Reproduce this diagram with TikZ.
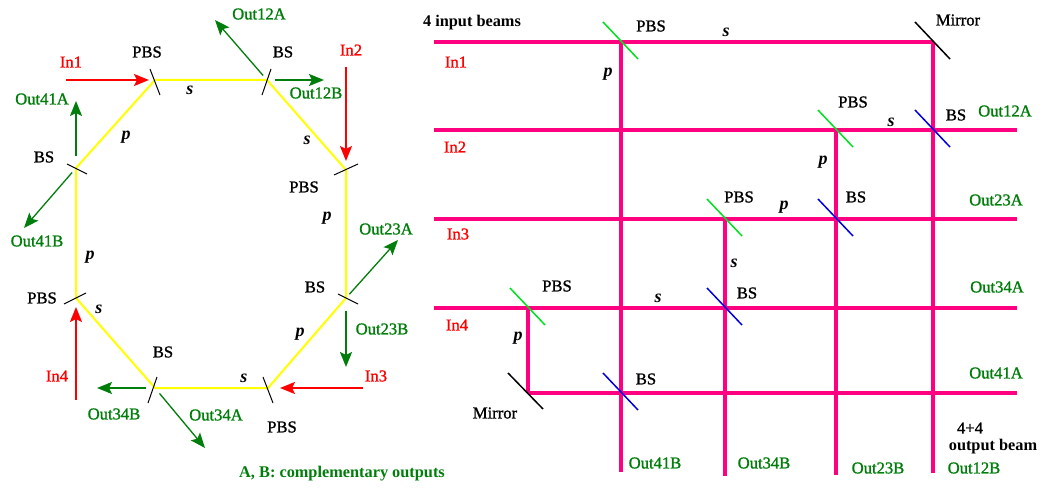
\documentclass[tikz,border=0pt]{standalone}
\usepackage{fontspec}
\setmainfont{Liberation Serif}
\newfontfamily\lblfont[FakeBold=1.2]{Liberation Serif}
\usetikzlibrary{arrows.meta}
\definecolor{beamyellow}{RGB}{255,255,0}
\definecolor{beampink}{RGB}{255,0,128}
\definecolor{outgreen}{RGB}{0,125,10}
\definecolor{pbsgreen}{RGB}{0,225,30}
\definecolor{bsblue}{RGB}{0,0,225}
\tikzset{
    %Define standard arrow tip
    >={Stealth[length=15pt,width=12pt,inset=3pt]},
    %Define styles for the loop on the left
    loopbeam/.style={draw=beamyellow, line width=2pt},
    tick/.style={draw=black, line width=1pt},
    inarrow/.style={->, draw=red, fill=red, line width=2pt},
    outarrow/.style={->, draw=outgreen, line width=2pt},
    outslant/.style={->, draw=outgreen, line width=1.3pt},
    % Define styles for the grid on the right
    gridbeam/.style={draw=beampink, line width=3.4pt},
    pbsline/.style={draw=pbsgreen, line width=1.5pt},
    bsline/.style={draw=bsblue, line width=1.5pt},
    mirrorline/.style={draw=black, line width=1.5pt},
    % Define styles for labels
    lbl/.style={inner sep=0pt, font=\lblfont\fontsize{16.6}{17}\selectfont},
    inlbl/.style={lbl, text=red},
    outlbl/.style={lbl, text=outgreen},
    pol/.style={inner sep=0pt, font=\fontsize{18}{18}\selectfont\bfseries\itshape},
    boldlbl/.style={inner sep=0pt, font=\fontsize{16.3}{17}\selectfont\bfseries}
}

\begin{document}
\begin{tikzpicture}[x=1pt, y=-1pt]
    \useasboundingbox (0,0) rectangle (1042,489);
    % junctions of the loop
    \coordinate (pbsA) at (155,80);
    \coordinate (bsA) at (267,80);
    \coordinate (pbsB) at (346,170);
    \coordinate (bsB) at (346,298);
    \coordinate (pbsC) at (268,388);
    \coordinate (bsC) at (155,388);
    \coordinate (pbsD) at (76,298);
    \coordinate (bsD) at (76,168);
    % free ends of the arrows
    \coordinate (inOne) at (66,80);
    \coordinate (inTwo) at (346,67);
    \coordinate (inThree) at (363,388);
    \coordinate (inFour) at (76,400);
    \coordinate (outOneA) at (215,20);
    \coordinate (outOneB) at (324,80);
    \coordinate (outTwoA) at (398,240);
    \coordinate (outTwoB) at (346,367);
    \coordinate (outThreeA) at (205,448);
    \coordinate (outThreeB) at (97,388);
    \coordinate (outFourA) at (76,101);
    \coordinate (outFourB) at (24,228);

    \draw[loopbeam] (pbsA) -- (bsA) -- (pbsB) -- (bsB) -- (pbsC) -- (bsC) -- (pbsD) -- (bsD) -- cycle;

    \draw[tick] (pbsA) ++(-5,-11) -- ++(10,26);
    \draw[tick] (bsA) ++(4,-11) -- ++(-9,26);
    \draw[tick] (pbsB) ++(12,-6) -- ++(-24,11);
    \draw[tick] (bsB) ++(-8,-4) -- ++(20,10);
    \draw[tick] (pbsC) ++(-5,-11) -- ++(10,26);
    \draw[tick] (bsC) ++(2,-11) -- ++(-9,26);
    \draw[tick] (pbsD) ++(10,-5) -- ++(-22,11);
    \draw[tick] (bsD) ++(-9,-4) -- ++(20,10);

    \draw[inarrow, shorten >=6pt] (inOne) -- (pbsA);
    \draw[inarrow, shorten >=9pt] (inTwo) -- (pbsB);
    \draw[inarrow, shorten >=12pt] (inThree) -- (pbsC);
    \draw[inarrow, shorten >=9pt] (inFour) -- (pbsD);

    \draw[outslant, shorten <=6pt] (bsA) -- (outOneA);
    \draw[outarrow, shorten <=8pt] (bsA) -- (outOneB);
    \draw[outslant, shorten <=5pt] (bsB) -- (outTwoA);
    \draw[outarrow, shorten <=13pt] (bsB) -- (outTwoB);
    \draw[outslant, shorten <=7pt] (bsC) -- (outThreeA);
    \draw[outarrow, shorten <=9pt] (bsC) -- (outThreeB);
    \draw[outarrow, shorten <=12pt] (bsD) -- (outFourA);
    \draw[outslant, shorten <=6pt] (bsD) -- (outFourB);

    \node[lbl] (pbsAlbl) at (147,52) {PBS};
    \node[lbl] (bsAlbl) at (283,52) {BS};
    \node[lbl] (pbsBlbl) at (304,187) {PBS};
    \node[lbl] (bsBlbl) at (315,287) {BS};
    \node[lbl] (pbsClbl) at (282,427) {PBS};
    \node[lbl] (bsClbl) at (163,352) {BS};
    \node[lbl] (pbsDlbl) at (42,298) {PBS};
    \node[lbl] (bsDlbl) at (44,157) {BS};

    \node[inlbl] (inOnelbl) at (71,62) {In1};
    \node[inlbl] (inTwolbl) at (351,50) {In2};
    \node[inlbl] (inThreelbl) at (376,376) {In3};
    \node[inlbl] (inFourlbl) at (57,376) {In4};

    \node[outlbl] (outOneAlbl) at (259,14) {Out12A};
    \node[outlbl] (outOneBlbl) at (316,93) {Out12B};
    \node[outlbl] (outTwoAlbl) at (386,229) {Out23A};
    \node[outlbl] (outTwoBlbl) at (382,329) {Out23B};
    \node[outlbl] (outThreeAlbl) at (216,415) {Out34A};
    \node[outlbl] (outThreeBlbl) at (114,414) {Out34B};
    \node[outlbl] (outFourAlbl) at (42,99) {Out41A};
    \node[outlbl] (outFourBlbl) at (37,241) {Out41B};

    \node[pol] (sA) at (190,90) {s};
    \node[pol] (sB) at (307,140) {s};
    \node[pol] (pB) at (327,218) {p};
    \node[pol] (pC) at (300,334) {p};
    \node[pol] (sC) at (244,378) {s};
    \node[pol] (sD) at (99,309) {s};
    \node[pol] (pD) at (90,257) {p};
    \node[pol] (pA) at (126,137) {p};

    \node[boldlbl, text=outgreen] (note) at (342,474) {A, B: complementary outputs};

    % crossings of the grid
    \coordinate (pbsE) at (621,42);
    \coordinate (mirrorE) at (933,42);
    \coordinate (pbsF) at (836,130);
    \coordinate (bsF) at (933,130);
    \coordinate (pbsG) at (725,219);
    \coordinate (bsG) at (836,219);
    \coordinate (pbsH) at (528,308);
    \coordinate (bsH) at (725,308);
    \coordinate (mirrorI) at (528,393);
    \coordinate (bsI) at (621,393);
    % free ends of the grid
    \coordinate (inE) at (434,42);
    \coordinate (inF) at (434,130);
    \coordinate (inG) at (434,219);
    \coordinate (inH) at (434,308);
    \coordinate (endF) at (1017,130);
    \coordinate (endG) at (1017,219);
    \coordinate (endH) at (1017,308);
    \coordinate (endI) at (1017,393);
    \coordinate (endW) at (621,472);
    \coordinate (endX) at (725,476);
    \coordinate (endY) at (836,475);
    \coordinate (endZ) at (933,473);

    \draw[gridbeam] (inE) -- (mirrorE);
    \draw[gridbeam] (inF) -- (endF);
    \draw[gridbeam] (inG) -- (endG);
    \draw[gridbeam] (inH) -- (endH);
    \draw[gridbeam] (mirrorI) -- (endI);
    \draw[gridbeam] (pbsH) -- (mirrorI);
    \draw[gridbeam] (pbsE) -- (endW);
    \draw[gridbeam] (pbsG) -- (endX);
    \draw[gridbeam] (pbsF) -- (endY);
    \draw[gridbeam] (mirrorE) -- (endZ);

    \draw[pbsline] (pbsE) ++(-18,-20) -- ++(35,37);
    \draw[pbsline] (pbsF) ++(-18,-20) -- ++(35,37);
    \draw[pbsline] (pbsG) ++(-18,-20) -- ++(35,37);
    \draw[pbsline] (pbsH) ++(-18,-20) -- ++(35,37);
    \draw[bsline] (bsF) ++(-18,-20) -- ++(35,37);
    \draw[bsline] (bsG) ++(-18,-20) -- ++(35,37);
    \draw[bsline] (bsH) ++(-18,-20) -- ++(35,37);
    \draw[bsline] (bsI) ++(-18,-20) -- ++(35,37);
    \draw[mirrorline] (mirrorE) ++(-18,-20) -- ++(35,37);
    \draw[mirrorline] (mirrorI) ++(-20,-20) -- ++(35,36);

    \node[boldlbl] (inputs) at (472,23) {4 input beams};
    \node[lbl] (pbsElbl) at (651,26) {PBS};
    \node[lbl] (pbsFlbl) at (853,102) {PBS};
    \node[lbl] (pbsGlbl) at (739,197) {PBS};
    \node[lbl] (pbsHlbl) at (557,286) {PBS};
    \node[lbl] (bsFlbl) at (956,115) {BS};
    \node[lbl] (bsGlbl) at (856,197) {BS};
    \node[lbl] (bsHlbl) at (747,293) {BS};
    \node[lbl] (bsIlbl) at (646,379) {BS};
    \node[lbl] (mirrorElbl) at (958,20) {Mirror};
    \node[lbl] (mirrorIlbl) at (495,413) {Mirror};
    \node[lbl] (fourlbl) at (970,428) {4+4};
    \node[boldlbl] (beamlbl) at (993,447) {output beam};

    \node[inlbl] (inElbl) at (456,62) {In1};
    \node[inlbl] (inFlbl) at (455,147) {In2};
    \node[inlbl] (inGlbl) at (458,234) {In3};
    \node[inlbl] (inHlbl) at (457,325) {In4};

    \node[outlbl] (outFlbl) at (1005,111) {Out12A};
    \node[outlbl] (outGlbl) at (996,200) {Out23A};
    \node[outlbl] (outHlbl) at (997,287) {Out34A};
    \node[outlbl] (outIlbl) at (996,373) {Out41A};
    \node[outlbl] (outWlbl) at (655,463) {Out41B};
    \node[outlbl] (outXlbl) at (764,463) {Out34B};
    \node[outlbl] (outYlbl) at (878,468) {Out23B};
    \node[outlbl] (outZlbl) at (974,468) {Out12B};

    \node[pol] (sE) at (726,32) {s};
    \node[pol] (pE) at (608,74) {p};
    \node[pol] (sF) at (891,122) {s};
    \node[pol] (pF) at (823,162) {p};
    \node[pol] (pG) at (784,207) {p};
    \node[pol] (sG) at (734,263) {s};
    \node[pol] (sH) at (658,298) {s};
    \node[pol] (pH) at (518,338) {p};
\end{tikzpicture}
\end{document}
